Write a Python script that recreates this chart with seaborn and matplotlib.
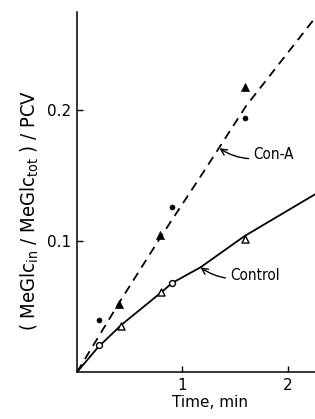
import matplotlib
matplotlib.use('Agg')
import matplotlib.pyplot as plt
import seaborn as sns

# measured points (time in min, uptake / PCV)
cona_dot_t = [0.21, 0.90, 1.59]
cona_dot_y = [0.040, 0.126, 0.194]
cona_tri_t = [0.40, 0.79, 1.59]
cona_tri_y = [0.052, 0.105, 0.218]

ctrl_dot_t = [0.21, 0.90]
ctrl_dot_y = [0.021, 0.068]
ctrl_tri_t = [0.42, 0.80, 1.59]
ctrl_tri_y = [0.035, 0.061, 0.102]

# hand-drawn fitted curves
cona_line_t = [0.0, 0.4, 0.8, 1.2, 1.6, 2.26]
cona_line_y = [0.0, 0.053, 0.104, 0.153, 0.203, 0.271]
ctrl_line_t = [0.0, 0.2, 0.42, 0.8, 0.9, 1.17, 1.59, 2.26]
ctrl_line_y = [0.0, 0.019, 0.036, 0.061, 0.068, 0.080, 0.104, 0.136]

sns.set_style('ticks', {'text.color': 'black', 'xtick.color': 'black',
                        'ytick.color': 'black', 'axes.labelcolor': 'black',
                        'axes.edgecolor': 'black'})
plt.rcParams['font.family'] = ['DejaVu Sans']

fig = plt.figure(figsize=(3.15, 4.19), dpi=100)
ax = fig.add_axes([0.2444, 0.112, 0.7556, 0.859])

sns.lineplot(x=cona_line_t, y=cona_line_y, ax=ax, color='black', lw=1.3,
             linestyle=(0, (5, 3.5)))
sns.lineplot(x=ctrl_line_t, y=ctrl_line_y, ax=ax, color='black', lw=1.3)

sns.scatterplot(x=cona_dot_t, y=cona_dot_y, ax=ax, marker='o', color='black',
                s=14, edgecolor='black', zorder=5)
sns.scatterplot(x=cona_tri_t, y=cona_tri_y, ax=ax, marker='^', color='black',
                s=34, edgecolor='black', zorder=5)
sns.scatterplot(x=ctrl_dot_t, y=ctrl_dot_y, ax=ax, marker='o', facecolor='white',
                s=18, edgecolor='black', linewidth=1.0, zorder=5)
sns.scatterplot(x=ctrl_tri_t, y=ctrl_tri_y, ax=ax, marker='^', facecolor='white',
                s=26, edgecolor='black', linewidth=1.0, zorder=5)

ax.annotate('Con-A', xy=(1.35, 0.171), xytext=(1.67, 0.166), fontsize=11,
            va='center', ha='left', fontstretch='condensed',
            arrowprops=dict(arrowstyle='->', color='black', lw=1,
                            connectionstyle='arc3,rad=-0.25', shrinkA=1, shrinkB=0))
ax.annotate('Control', xy=(1.17, 0.080), xytext=(1.45, 0.074), fontsize=11,
            va='center', ha='left', fontstretch='condensed',
            arrowprops=dict(arrowstyle='->', color='black', lw=1,
                            connectionstyle='arc3,rad=-0.25', shrinkA=1, shrinkB=0))

ax.set_xlim(0, 2.256)
ax.set_ylim(0, 0.275)
ax.set_xticks([1, 2])
ax.set_xticklabels(['1', '2'])
ax.set_yticks([0.1, 0.2])
ax.set_yticklabels(['0.1', '0.2'])
ax.tick_params(direction='in', length=4, width=1, labelsize=11, pad=4)
ax.set_xlabel('Time, min', fontsize=11)
ax.xaxis.set_label_coords(0.559, -0.065)
ax.set_ylabel(r'( MeGlc$_{\mathregular{in}}$ / MeGlc$_{\mathregular{tot}}$ ) / PCV',
              fontsize=14.5, fontstretch='condensed')
ax.yaxis.set_label_coords(-0.15, 0.45)
sns.despine(ax=ax)
for s in ['left', 'bottom']:
    ax.spines[s].set_linewidth(1.1)

fig.savefig('out.png', dpi=100)
